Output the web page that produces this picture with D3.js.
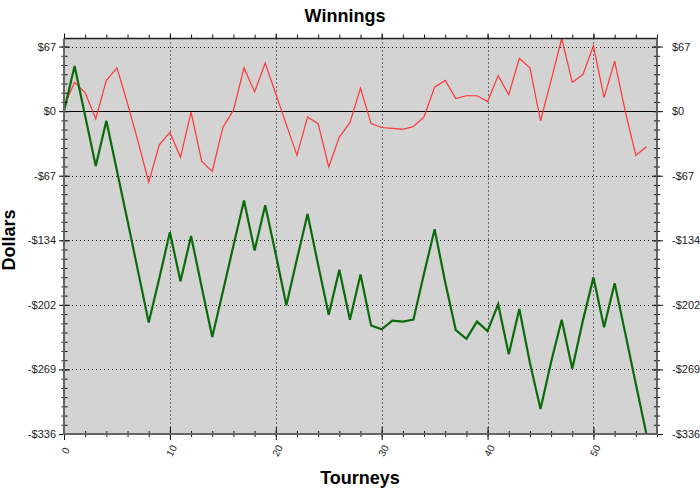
<!DOCTYPE html>
<html><head><meta charset="utf-8">
<script src="https://cdn.jsdelivr.net/npm/d3@7"></script>
<style>
body{margin:0;background:#fff;}
svg text{font-family:"Liberation Sans",Arial,sans-serif;}
</style></head>
<body><svg id="c" width="700" height="491"></svg>
<script>
const tourneys = d3.range(0, 56);
const redSeries = [5,30,19,-8,32,45,8,-32,-74,-35,-22,-48,-1,-52,-63,-17,1,45,20,50,
  18,-14,-46,-6,-13,-58,-27,-12,24,-13,-17,-18,-19,-16,-6,25,32,13,16,16,
  10,37,17,55,45,-10,32,75.6,30,38,68,14,52,0,-46,-37];
const greenSeries = [0,47,-5,-57,-10,-62,-114,-167,-220,-174,-126,-177,-130,-183,-235,-188,-140,-93,-145,-98,
  -149,-202,-154,-107,-160,-212,-165,-217,-170,-223,-227,-218,-219,-217,-169,-123,-178,-228,-237,-219,
  -229,-201,-253,-206,-262,-310,-261,-217,-268,-218,-173,-225,-179,-231,-284,-336];
const yTickValues = [-336,-268.8,-201.6,-134.4,-67.2,0,67.2];
const yTickLabels = ["-$336","-$269","-$202","-$134","-$67","$0","$67"];
const xTickValues = [0,10,20,30,40,50];
const xTickLabels = ["0","10","20","30","40","50"];
const chartTitle = "Winnings", xTitle = "Tourneys", yTitle = "Dollars";

const svg = d3.select("#c");
const L=64, R=657, T=38.5, B=434;
const x = d3.scaleLinear().domain([0,56]).range([L,R]);
const yMin = d3.min(greenSeries.concat(redSeries)), yMax = d3.max(greenSeries.concat(redSeries));
const y = d3.scaleLinear().domain([yMin,yMax]).range([B,T]);

svg.append("rect").attr("x",L).attr("y",T).attr("width",R-L).attr("height",B-T).attr("fill","#d3d3d3");

// gridlines
const grid = svg.append("g").attr("stroke","#000").attr("stroke-width",1).attr("stroke-dasharray","1,3");
grid.selectAll(".vg").data(xTickValues.filter(d=>d>0)).join("line")
  .attr("x1",d=>Math.round(x(d))+0.5).attr("x2",d=>Math.round(x(d))+0.5).attr("y1",T).attr("y2",B);
grid.selectAll(".hg").data(yTickValues.filter(d=>d!==0 && d!==-336)).join("line")
  .attr("y1",d=>Math.round(y(d))+0.5).attr("y2",d=>Math.round(y(d))+0.5).attr("x1",L).attr("x2",R);
svg.append("line").attr("x1",L).attr("x2",R).attr("y1",Math.round(y(0))+0.5).attr("y2",Math.round(y(0))+0.5)
  .attr("stroke","#000").attr("stroke-width",1.2);

// series
const line = d3.line().x((d,i)=>x(tourneys[i])).y(d=>y(d));
const clip = svg.append("clipPath").attr("id","pc").append("rect").attr("x",L).attr("y",T-2).attr("width",R-L).attr("height",B-T+2);
svg.append("path").datum(redSeries).attr("d",line).attr("fill","none").attr("stroke","#ff3636").attr("stroke-width",1.2).attr("stroke-linejoin","miter");
svg.append("path").datum(greenSeries).attr("d",line).attr("fill","none").attr("stroke","#0b6b0b").attr("stroke-width",2.2).attr("clip-path","url(#pc)");

// minor ticks
const yMinor = d3.range(0, 60).map(k=>-336+k*9.6).filter(v=>v<=yMax);
const xMinor = d3.range(0, 57, 2);

function crossTicks(axisG, orient){
  axisG.selectAll(".tick line").each(function(){
    const t=d3.select(this);
    if(orient==="left"||orient==="right"){ t.attr("x1",-5).attr("x2",6);} else { t.attr("y1",-6).attr("y2",6);} 
  });
}
// left axis
const leftMinor = svg.append("g").attr("transform",`translate(${L},0)`)
  .call(d3.axisLeft(y).tickValues(yMinor).tickSize(0).tickFormat(""));
leftMinor.selectAll(".tick line").attr("x1",-2.5).attr("x2",3.5).attr("stroke","#111");
leftMinor.select(".domain").remove();
const leftAx = svg.append("g").attr("transform",`translate(${L},0)`)
  .call(d3.axisLeft(y).tickValues(yTickValues).tickFormat((d,i)=>yTickLabels[i]).tickSize(0).tickPadding(8));
leftAx.selectAll(".tick line").attr("x1",-5).attr("x2",6).attr("stroke","#111");
leftAx.select(".domain").remove();
leftAx.selectAll("text").attr("font-size",11).attr("fill","#222");

const rightMinor = svg.append("g").attr("transform",`translate(${R},0)`)
  .call(d3.axisRight(y).tickValues(yMinor).tickSize(0).tickFormat(""));
rightMinor.selectAll(".tick line").attr("x1",-3).attr("x2",3).attr("stroke","#111");
rightMinor.select(".domain").remove();
const rightAx = svg.append("g").attr("transform",`translate(${R},0)`)
  .call(d3.axisRight(y).tickValues(yTickValues).tickFormat((d,i)=>yTickLabels[i]).tickSize(0).tickPadding(15));
rightAx.selectAll(".tick line").attr("x1",-5).attr("x2",6).attr("stroke","#111");
rightAx.select(".domain").remove();
rightAx.selectAll("text").attr("font-size",11).attr("fill","#222");

const botMinor = svg.append("g").attr("transform",`translate(0,${B})`)
  .call(d3.axisBottom(x).tickValues(xMinor).tickSize(0).tickFormat(""));
botMinor.selectAll(".tick line").attr("y1",-3).attr("y2",3).attr("stroke","#111");
botMinor.select(".domain").remove();
const botAx = svg.append("g").attr("transform",`translate(0,${B})`)
  .call(d3.axisBottom(x).tickValues(xTickValues).tickFormat((d,i)=>xTickLabels[i]).tickSize(0));
botAx.selectAll(".tick line").attr("y1",-7).attr("y2",6).attr("stroke","#111");
botAx.select(".domain").remove();
botAx.selectAll("text").attr("font-size",10).attr("fill","#222").attr("dy",null).attr("y",0)
  .attr("text-anchor","middle").attr("transform","translate(2,17) rotate(-62)").attr("dominant-baseline","middle");

const topMinor = svg.append("g").attr("transform",`translate(0,${T})`)
  .call(d3.axisTop(x).tickValues(xMinor).tickSize(4).tickFormat(""));
topMinor.selectAll(".tick line").attr("stroke","#111");
topMinor.select(".domain").remove();
const topAx = svg.append("g").attr("transform",`translate(0,${T})`)
  .call(d3.axisTop(x).tickValues(xTickValues).tickSize(5).tickFormat(""));
topAx.selectAll(".tick line").attr("stroke","#111");
topAx.select(".domain").remove();

// frame
svg.append("line").attr("x1",L).attr("x2",R).attr("y1",T).attr("y2",T).attr("stroke","#222").attr("stroke-width",1.5);
svg.append("line").attr("x1",R).attr("x2",R).attr("y1",T).attr("y2",B).attr("stroke","#555").attr("stroke-width",1.8);
svg.append("line").attr("x1",L).attr("x2",L).attr("y1",T).attr("y2",B+1).attr("stroke","#666").attr("stroke-width",2);
svg.append("line").attr("x1",L-1).attr("x2",R+1).attr("y1",B).attr("y2",B).attr("stroke","#666").attr("stroke-width",2);

// titles
svg.append("text").attr("x",345).attr("y",22).attr("text-anchor","middle").attr("font-size",18).attr("font-weight","bold").text(chartTitle);
svg.append("text").attr("x",360).attr("y",484).attr("text-anchor","middle").attr("font-size",18).attr("font-weight","bold").text(xTitle);
svg.append("text").attr("transform","translate(15,240) rotate(-90)").attr("text-anchor","middle").attr("font-size",18).attr("font-weight","bold").text(yTitle);
</script></body></html>
